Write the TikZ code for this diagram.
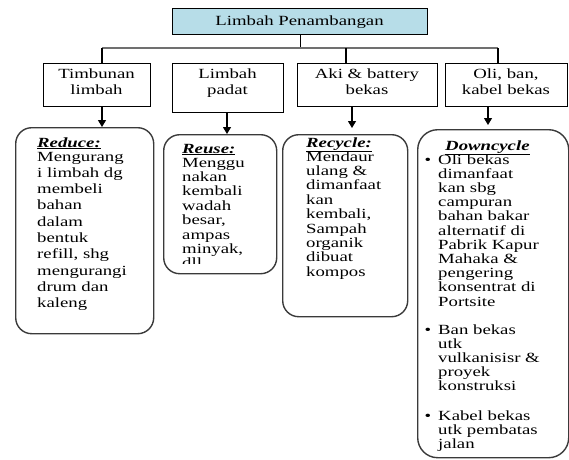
\documentclass[tikz,border=0pt]{standalone}
\usepackage{fontspec}
\setmainfont{Liberation Serif}[FakeStretch=1.34]
\usetikzlibrary{arrows.meta}
\definecolor{topfill}{HTML}{B7DDE8}
\definecolor{rbord}{HTML}{3A3A3A}
\definecolor{hlgray}{HTML}{707070}
\newcommand{\llines}[1]{\begin{tabular}[t]{@{}l@{}}#1\end{tabular}}
\newcommand{\clines}[1]{\begin{tabular}[t]{@{}c@{}}#1\end{tabular}}
\begin{document}
\begin{tikzpicture}[x=1pt,y=-1pt,
  sqbox/.style={draw=black,line width=1.2pt,anchor=north west,inner sep=0pt},
  rbox/.style={draw=rbord,line width=1.4pt,rounded corners=16pt,anchor=north west,inner sep=0pt},
  lbl/.style={inner sep=0pt,font=\fontsize{14}{16}\selectfont,anchor=base},
  body/.style={inner sep=0pt,font=\fontsize{14}{14.4}\selectfont,anchor=base west},
  bodyA/.style={body,font=\fontsize{14}{16.3}\selectfont},
  bodyD/.style={body,font=\fontsize{14}{14.2}\selectfont},
  head/.style={inner sep=0pt,font=\fontsize{14}{14.4}\selectfont\bfseries\itshape,anchor=base west},
  bul/.style={inner sep=0pt,font=\fontsize{14}{14.4}\selectfont,anchor=base},
  arr/.style={line width=1.1pt,-{Triangle[width=8pt,length=7pt]}},
  conn/.style={line width=1.1pt},
  hline/.style={line width=1.5pt,draw=hlgray}]
\useasboundingbox (0,0) rectangle (569,459);
% top
\node[sqbox,fill=topfill,minimum width=255pt,minimum height=26pt] (top) at (172,8) {};
\node[lbl] (toplbl) at (299.5,25) {Limbah Penambangan};
% second row
\node[sqbox,minimum width=107pt,minimum height=43pt] (b1) at (43,63) {};
\node[sqbox,minimum width=111pt,minimum height=49pt] (b2) at (172,63) {};
\node[sqbox,minimum width=140pt,minimum height=43pt] (b3) at (297,63) {};
\node[sqbox,minimum width=122pt,minimum height=43pt] (b4) at (445,63) {};
\node[lbl] (l1) at (96.5,78) {\clines{Timbunan\\limbah}};
\node[lbl] (l2) at (227.5,78) {\clines{Limbah\\padat}};
\node[lbl] (l3) at (367,78) {\clines{Aki \& battery\\bekas}};
\node[lbl] (l4) at (506,78) {\clines{Oli, ban,\\kabel bekas}};
% third row
\node[rbox,minimum width=138pt,minimum height=206pt] (r1) at (15,127) {};
\node[rbox,minimum width=113pt,minimum height=139pt] (r2) at (163,134) {};
\node[rbox,minimum width=125pt,minimum height=182pt] (r3) at (282,134) {};
\node[rbox,rounded corners=20pt,minimum width=151pt,minimum height=328pt] (r4) at (417,129) {};
% connectors
\coordinate (jL) at (102,48);
\coordinate (j3) at (346,48);
\coordinate (jR) at (498,48);
\draw[conn] (top.south) -- (top.south |- jL);
\draw[hline] (jL) -- (jR);
\draw[conn] (jL) -- (jL |- b1.north);
\draw[conn] (j3) -- (j3 |- b3.north);
\draw[conn] (jR) -- (jR |- b4.north);
\coordinate (a1) at (102,0);
\coordinate (a2) at (227,0);
\coordinate (a3) at (352,0);
\coordinate (a4) at (488,0);
\draw[arr] (a1 |- b1.south) -- (a1 |- r1.north);
\draw[arr] (a2 |- b2.south) -- (a2 |- r2.north);
\draw[arr,shorten >=6pt] (a3 |- b3.south) -- (a3 |- r3.north);
\draw[arr,shorten >=4pt] (a4 |- b4.south) -- (a4 |- r4.north);
% box texts
\node[head] (h1) at (37,147) {\underline{Reduce:}};
\node[bodyA] (t1) at (37,161) {\llines{Mengurang\\i limbah dg\\membeli\\bahan\\dalam\\bentuk\\refill, shg\\mengurangi\\drum dan\\kaleng}};
\begin{scope}
  \clip (163,134) rectangle (276,263);
  \node[head] (h2) at (182,153) {\underline{Reuse:}};
  \node[body] (t2) at (182,167) {\llines{Menggu\\nakan\\kembali\\wadah\\besar,\\ampas\\minyak,\\dll}};
\end{scope}
\node[head] (h3) at (306,147) {\underline{Recycle:}};
\node[body] (t3) at (306,161) {\llines{Mendaur\\ulang \&\\dimanfaat\\kan\\kembali,\\Sampah\\organik\\dibuat\\kompos}};
\node[head] (h4) at (445,150) {\underline{Downcycle}};
\node[bul] (p1) at (428,164) {\textbullet};
\node[bodyD] (t4a) at (438,164) {\llines{Oli bekas\\dimanfaat\\kan sbg\\campuran\\bahan bakar\\alternatif di\\Pabrik Kapur\\Mahaka \&\\pengering\\konsentrat di\\Portsite}};
\node[bul] (p2) at (428,334) {\textbullet};
\node[bodyD] (t4b) at (438,334) {\llines{Ban bekas\\utk\\vulkanisisr \&\\proyek\\konstruksi}};
\node[bul] (p3) at (428,420) {\textbullet};
\node[bodyD] (t4c) at (438,420) {\llines{Kabel bekas\\utk pembatas\\jalan}};
\end{tikzpicture}
\end{document}
